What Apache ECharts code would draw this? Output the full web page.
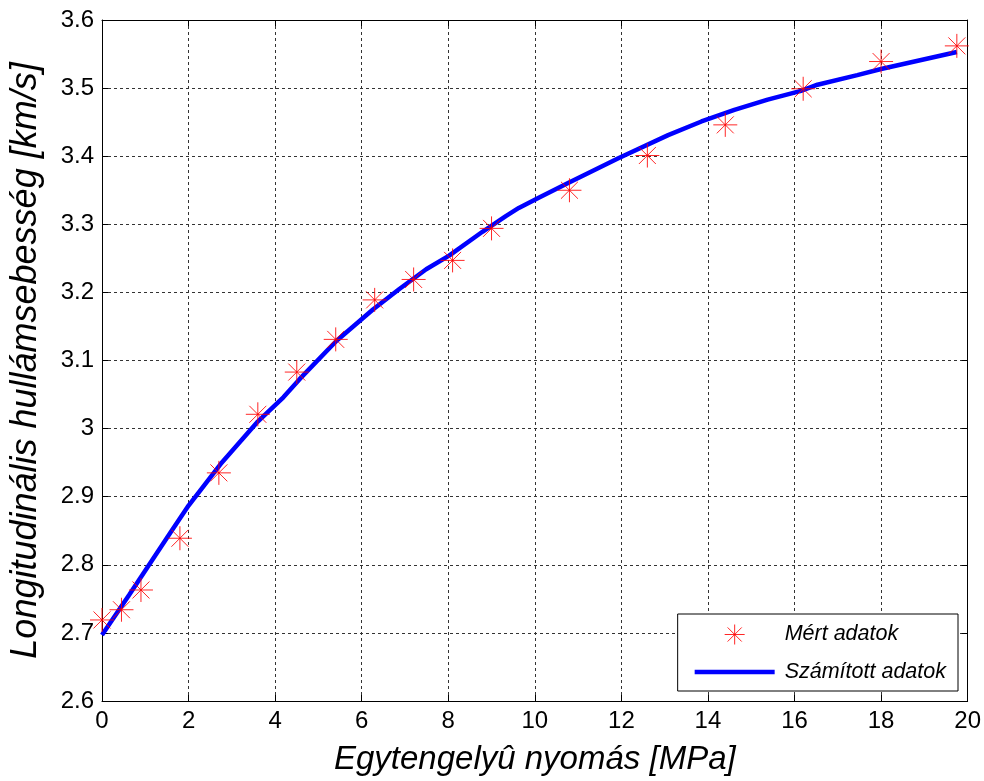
<!DOCTYPE html>
<html>
<head>
<meta charset="utf-8">
<script src="https://cdn.jsdelivr.net/npm/echarts@6/dist/echarts.min.js"></script>
<style>html,body{margin:0;padding:0;background:#fff}#c{width:984px;height:781px}</style>
</head>
<body>
<div id="c"></div>
<script>
// Measured data (Mért adatok)
const measX = [0, 0.45, 0.9, 1.8, 2.7, 3.6, 4.5, 5.4, 6.3, 7.2, 8.1, 9.0, 10.8, 12.6, 14.4, 16.2, 18.0, 19.75];
const measY = [2.719, 2.734, 2.763, 2.839, 2.935, 3.021, 3.083, 3.131, 3.189, 3.219, 3.247, 3.294, 3.350, 3.401, 3.446, 3.499, 3.539, 3.562];
// Calculated curve (Számított adatok)
const calcX = [0, 0.63, 1.59, 2.0, 2.74, 3.58, 4.19, 4.57, 5.42, 6.26, 6.87, 7.49, 8.02, 8.79, 9.33, 9.63, 10.09, 10.78, 11.93, 13.08, 13.85, 14.61, 15.38, 16.15, 16.53, 17.45, 18.0, 19.75];
const calcY = [2.697, 2.756, 2.848, 2.887, 2.948, 3.009, 3.046, 3.073, 3.129, 3.175, 3.205, 3.234, 3.254, 3.289, 3.312, 3.324, 3.339, 3.361, 3.397, 3.431, 3.451, 3.468, 3.483, 3.496, 3.505, 3.519, 3.528, 3.553];
const xTitle = 'Egytengelyû nyomás [MPa]';
const yTitle = 'Longitudinális hullámsebesség [km/s]';
const seriesNames = ['Mért adatok', 'Számított adatok'];

const star = 'path://M0,-10L0,10M-10,0L10,0M-7.07,-7.07L7.07,7.07M-7.07,7.07L7.07,-7.07';
const lineIcon = 'path://M0,0L80,0L80,4.5L0,4.5Z';
const font = 'Liberation Sans';
const gridLine = {show: true, lineStyle: {color: '#333', type: [3, 3], width: 1}};
const chart = echarts.init(document.getElementById('c'));
chart.setOption({
  animation: false,
  backgroundColor: '#fff',
  textStyle: {fontFamily: font},
  grid: {left: 101, right: 14, top: 20, bottom: 78, show: false},
  legend: {
    orient: 'vertical', right: 26, bottom: 90,
    backgroundColor: '#fff', borderColor: '#000', borderWidth: 1,
    padding: [8, 12, 8, 17], itemGap: 14, itemWidth: 80, itemHeight: 20,
    textStyle: {fontFamily: font, fontSize: 21.5, fontStyle: 'italic', color: '#000', padding: [0, 0, 0, 5]},
    data: [
      {name: seriesNames[0], icon: star, itemStyle: {color: 'none', borderColor: '#ff0000', borderWidth: 1}},
      {name: seriesNames[1], icon: lineIcon, itemStyle: {color: '#0000ff', borderWidth: 0}}
    ]
  },
  xAxis: [{
    type: 'value', min: 0, max: 20, interval: 2, position: 'bottom',
    name: xTitle, nameLocation: 'middle', nameGap: 42,
    nameTextStyle: {fontFamily: font, fontSize: 33, fontStyle: 'italic', color: '#000'},
    axisLine: {show: true, onZero: false, lineStyle: {color: '#000', width: 1}},
    axisTick: {show: true, inside: true, length: 6, lineStyle: {color: '#000'}},
    axisLabel: {fontFamily: font, fontSize: 24, color: '#000', margin: 8},
    splitLine: gridLine
  }, {
    type: 'value', min: 0, max: 20, interval: 2, position: 'top',
    axisLine: {show: true, onZero: false, lineStyle: {color: '#000', width: 1}},
    axisTick: {show: true, inside: true, length: 6, lineStyle: {color: '#000'}},
    axisLabel: {show: false}, splitLine: {show: false}
  }],
  yAxis: [{
    type: 'value', min: 2.6, max: 3.6, interval: 0.1, position: 'left',
    name: yTitle, nameLocation: 'middle', nameGap: 58,
    nameTextStyle: {fontFamily: font, fontSize: 36, fontStyle: 'italic', color: '#000'},
    axisLine: {show: true, onZero: false, lineStyle: {color: '#000', width: 1}},
    axisTick: {show: true, inside: true, length: 6, lineStyle: {color: '#000'}},
    axisLabel: {fontFamily: font, fontSize: 24, color: '#000', margin: 8,
      formatter: v => String(+v.toFixed(1))},
    splitLine: gridLine
  }, {
    type: 'value', min: 2.6, max: 3.6, interval: 0.1, position: 'right',
    axisLine: {show: true, onZero: false, lineStyle: {color: '#000', width: 1}},
    axisTick: {show: true, inside: true, length: 6, lineStyle: {color: '#000'}},
    axisLabel: {show: false}, splitLine: {show: false}
  }],
  series: [{
    name: seriesNames[1], type: 'line', xAxisIndex: 0, yAxisIndex: 0,
    data: calcX.map((x, i) => [x, calcY[i]]),
    showSymbol: false, symbol: 'none', z: 2,
    lineStyle: {color: '#0000ff', width: 4.5}, itemStyle: {color: '#0000ff'}
  }, {
    name: seriesNames[0], type: 'scatter', xAxisIndex: 0, yAxisIndex: 0,
    data: measX.map((x, i) => [x, measY[i]]),
    symbol: star, symbolSize: 24, z: 3,
    itemStyle: {color: 'none', borderColor: '#ff0000', borderWidth: 1, opacity: 0.85}
  }]
});
</script>
</body>
</html>
